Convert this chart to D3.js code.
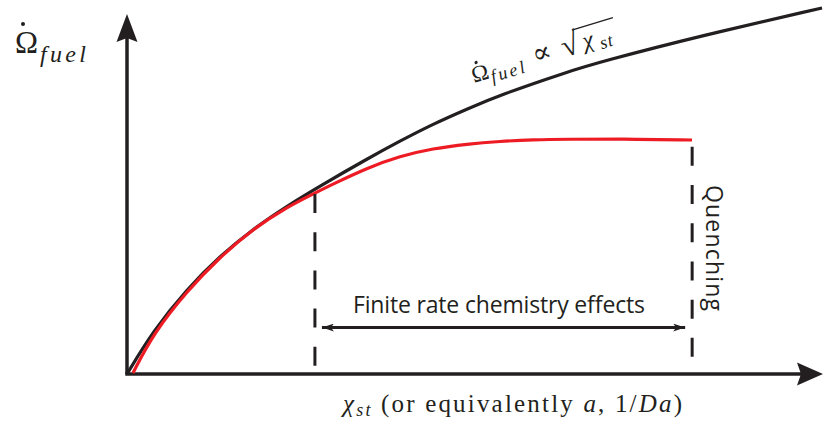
<!DOCTYPE html>
<html>
<head>
<meta charset="utf-8">
<script src="https://cdn.jsdelivr.net/npm/d3@7/dist/d3.min.js"></script>
<style>
  body { margin: 0; background: #fff; }
  svg { display: block; }
  .tex { font-family: "Liberation Serif", "DejaVu Serif", serif; fill: #231f20; }
  .sans { font-family: "Open Sans", "Noto Sans", sans-serif; fill: #231f20; }
</style>
</head>
<body>
<div id="chart"></div>
<script>
// curves (x: 0..100 along the axis, y: 0..100 up the axis)
var idealX = [0, 3.74, 8.62, 13.36, 18.10, 22.99, 27.73, 34.48, 39.22, 43.97, 48.85, 53.59, 63.22, 67.96, 82.33, 99.86];
var idealY = [0, 11.94, 23.61, 32.78, 40.28, 46.67, 52.22, 59.72, 64.72, 69.44, 73.61, 77.5, 83.89, 86.67, 93.89, 101.67];

var finiteX = [0.86, 3.74, 8.62, 13.36, 18.10, 22.99, 27.01, 29.60, 34.48, 39.22, 43.97, 48.85, 53.59, 58.33, 63.22, 70.83, 81.18];
var finiteY = [0.28, 11.11, 23.06, 32.5, 40.28, 46.39, 50.28, 52.78, 57.22, 60.56, 62.64, 63.89, 64.64, 65.06, 65.22, 65.28, 65.0];

// markers
var finiteStart = 27.0, finiteTop = 50.0, finiteBottom = 1.9;
var quenchX = 81.2, quenchTop = 63.1, quenchBottom = 4.4;
var rangeArrowY = 12.9;

var width = 827, height = 426;
var ink = "#231f20", red = "#ed1c24";

var svg = d3.select("#chart").append("svg")
	.attr("width", width)
	.attr("height", height);

var x = d3.scaleLinear()
	.domain([0, 100])
	.range([127, 823]);

var y = d3.scaleLinear()
	.domain([0, 100])
	.range([374, 14]);

var defs = svg.append("defs");
defs.append("marker")
	.attr("id", "head")
	.attr("viewBox", "0 0 12 8")
	.attr("refX", 12).attr("refY", 4)
	.attr("markerWidth", 12).attr("markerHeight", 8)
	.attr("markerUnits", "userSpaceOnUse")
	.attr("orient", "auto-start-reverse")
	.append("path")
		.attr("d", "M0,0 L12,4 L0,8 L3,4 Z")
		.style("fill", ink);

// axes with arrowheads
svg.append("line")
	.attr("x1", x(0)).attr("y1", y(0))
	.attr("x2", x(0)).attr("y2", y(100) + 20)
	.style("stroke", ink).style("stroke-width", 3.5);
svg.append("path")
	.attr("d", "M" + x(0) + "," + y(100) +
		" L" + (x(0) + 10.5) + "," + (y(100) + 28) +
		" L" + x(0) + "," + (y(100) + 24) +
		" L" + (x(0) - 10.5) + "," + (y(100) + 28) + " Z")
	.style("fill", ink);

svg.append("line")
	.attr("x1", x(0) - 1.75).attr("y1", y(0))
	.attr("x2", x(100) - 20).attr("y2", y(0))
	.style("stroke", ink).style("stroke-width", 3.5);
svg.append("path")
	.attr("d", "M" + x(100) + "," + y(0) +
		" L" + (x(100) - 26) + "," + (y(0) - 11.5) +
		" L" + (x(100) - 22) + "," + y(0) +
		" L" + (x(100) - 26) + "," + (y(0) + 11.5) + " Z")
	.style("fill", ink);

// curves
var line = d3.line()
	.x(function(d) { return x(d[0]); })
	.y(function(d) { return y(d[1]); })
	.curve(d3.curveBasis);

svg.append("path")
	.attr("d", line(d3.zip(idealX, idealY)))
	.style("fill", "none")
	.style("stroke", ink)
	.style("stroke-width", 3.2);

svg.append("path")
	.attr("d", line(d3.zip(finiteX, finiteY)))
	.style("fill", "none")
	.style("stroke", red)
	.style("stroke-width", 3.2);

// dashed markers
[[finiteStart, finiteTop, finiteBottom], [quenchX, quenchTop, quenchBottom]].forEach(function(m) {
	svg.append("line")
		.attr("x1", x(m[0])).attr("y1", y(m[1]))
		.attr("x2", x(m[0])).attr("y2", y(m[2]))
		.style("stroke", ink)
		.style("stroke-width", 3)
		.style("stroke-dasharray", "19,19.2");
});

// double arrow for the finite rate range
svg.append("line")
	.attr("x1", x(finiteStart) + 7).attr("y1", y(rangeArrowY))
	.attr("x2", x(quenchX) - 7).attr("y2", y(rangeArrowY))
	.style("stroke", ink)
	.style("stroke-width", 3)
	.attr("marker-start", "url(#head)")
	.attr("marker-end", "url(#head)");

svg.append("text")
	.attr("class", "sans")
	.attr("x", 353)
	.attr("y", y(rangeArrowY) - 15)
	.attr("textLength", 292)
	.style("font-size", "23px")
	.text("Finite rate chemistry effects");

svg.append("text")
	.attr("class", "sans")
	.attr("transform", "translate(" + (x(quenchX) + 14) + "," + 185 + ") rotate(90)")
	.attr("textLength", 126)
	.style("font-size", "23px")
	.text("Quenching");

// y label: Omega (with a dot accent) and subscript fuel
var ylab = svg.append("text").attr("class", "tex");
ylab.append("tspan").attr("x", 15).attr("y", 53).style("font-size", "31px").text("Ω");
ylab.append("tspan").attr("x", 40).attr("y", 62)
	.style("font-size", "24px").style("font-style", "italic")
	.style("letter-spacing", "3.3px").text("fuel");
svg.append("circle").attr("cx", 23).attr("cy", 24).attr("r", 2).style("fill", ink);

// curve annotation
var ann = svg.append("g").attr("transform", "translate(474,83) rotate(-17)");
var annText = ann.append("text").attr("class", "tex");
annText.append("tspan").attr("x", 0).attr("y", 0).style("font-size", "23px").text("Ω");
annText.append("tspan").attr("x", 18).attr("y", 5)
	.style("font-size", "18px").style("font-style", "italic")
	.style("letter-spacing", "2.6px").text("fuel");
annText.append("tspan").attr("x", 64).attr("y", 0).style("font-size", "28px").text("∝");
annText.append("tspan").attr("x", 94).attr("y", 2).style("font-size", "32px").text("√");
annText.append("tspan").attr("x", 116).attr("y", 0)
	.style("font-size", "24px").style("font-style", "italic").text("χ");
annText.append("tspan").attr("x", 132).attr("y", 5)
	.style("font-size", "18px").style("font-style", "italic")
	.style("letter-spacing", "1px").text("st");
ann.append("circle").attr("cx", 8).attr("cy", -19).attr("r", 1.6).style("fill", ink);
ann.append("line")
	.attr("x1", 109).attr("x2", 152).attr("y1", -22).attr("y2", -22)
	.style("stroke", ink).style("stroke-width", 1.3);

// x label
var xlab = svg.append("text").attr("class", "tex")
	.attr("x", 343).attr("y", 412)
	.attr("textLength", 339)
	.style("font-size", "25px");
xlab.append("tspan").style("font-style", "italic").text("χ");
xlab.append("tspan").attr("dy", 4).style("font-size", "18px").style("font-style", "italic").text("st");
xlab.append("tspan").attr("dy", -4).text("\u00a0(or equivalently ");
xlab.append("tspan").style("font-style", "italic").text("a");
xlab.append("tspan").text(", 1/");
xlab.append("tspan").style("font-style", "italic").text("Da");
xlab.append("tspan").text(")");
</script>
</body>
</html>
